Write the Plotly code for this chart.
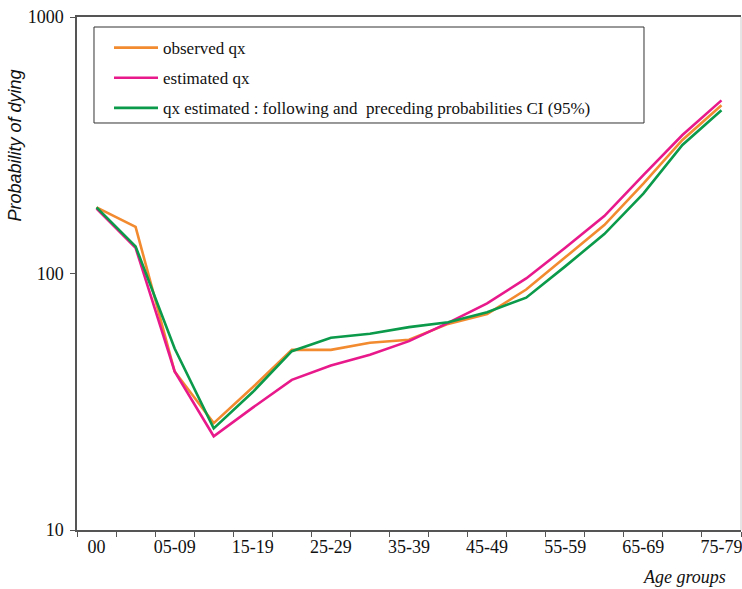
import plotly.graph_objects as go

age_groups = ["00", "01-04", "05-09", "10-14", "15-19", "20-24", "25-29", "30-34",
              "35-39", "40-44", "45-49", "50-54", "55-59", "60-64", "65-69", "70-74", "75-79"]
observed_qx = [181, 152, 41.5, 26.1, 36, 50.4, 50.4, 53.7, 55.2, 63.6, 69.5, 86.6,
               115.6, 154.5, 224, 331.6, 452.5]
estimated_qx = [179, 126, 41.5, 23.2, 30.0, 38.5, 43.8, 48.2, 54.5, 64.2, 76.5, 95.7,
                125.9, 167.5, 242, 346.6, 473]
ci_qx = [181, 127.6, 51.0, 24.9, 34.5, 49.8, 56.2, 58.2, 61.8, 64.6, 70.6, 80.5,
         106.6, 142.5, 205, 316.9, 432.6]
tick_labels = [g if i % 2 == 0 else "" for i, g in enumerate(age_groups)]

series = [
    ("observed qx", observed_qx, "#F28A30"),
    ("estimated qx", estimated_qx, "#E8198B"),
    ("qx estimated : following and  preceding probabilities CI (95%)", ci_qx, "#0A9A4A"),
]

serif = "Liberation Serif, Times New Roman, serif"
sans = "Liberation Sans, Arial, sans-serif"

fig = go.Figure()
for i, (name, vals, col) in enumerate(series):
    fig.add_trace(go.Scatter(
        x=age_groups, y=vals, mode="lines", name=name,
        line=dict(color=col, width=2.6), legendgroup=f"g{i}",
    ))

fig.update_layout(
    width=742, height=589,
    margin=dict(l=77, r=1, t=17, b=59),
    paper_bgcolor="white", plot_bgcolor="white",
    font=dict(family=serif, size=17, color="#111"),
    showlegend=True,
    legend=dict(
        x=0.0482, y=0.9745, xanchor="left", yanchor="top",
        borderwidth=0, bgcolor="rgba(0,0,0,0)",
        font=dict(family=serif, size=17, color="#111"),
        tracegroupgap=5, itemwidth=44,
    ),
    xaxis=dict(
        type="category", categoryorder="array", categoryarray=age_groups,
        tickmode="array", tickvals=age_groups, ticktext=tick_labels,
        tickson="boundaries", ticks="outside", ticklen=5, tickcolor="#555",
        tickangle=0, automargin=False,
        showline=True, linecolor="#555", linewidth=1.5, mirror=True,
        showgrid=False, zeroline=False,
        tickfont=dict(family=serif, size=18, color="#111"),
        range=[-0.5, 16.5],
    ),
    yaxis=dict(
        type="log", range=[1, 3], automargin=False,
        tickmode="array", tickvals=[10, 100, 1000], ticktext=["10", "100", "1000"],
        ticks="outside", ticklen=5, tickcolor="#555",
        showline=True, linecolor="#555", linewidth=1.5,
        showgrid=False, zeroline=False,
        tickfont=dict(family=serif, size=18, color="#111"),
        ticklabelstandoff=3,
    ),
    shapes=[
        dict(type="line", xref="paper", yref="paper", x0=1, x1=1, y0=0, y1=1,
             line=dict(color="#ccc", width=1)),
        dict(type="rect", xref="paper", yref="paper", x0=0.0256, x1=0.8539,
             y0=0.7934, y1=0.9805, line=dict(color="#333", width=1), layer="below"),
    ],
    annotations=[
        dict(text="Probability of dying", xref="paper", yref="paper",
             x=-0.093, y=0.75, xanchor="center", yanchor="middle", textangle=-90,
             showarrow=False, font=dict(family=sans, size=18, color="#111", style="italic")),
        dict(text="Age groups", xref="paper", yref="paper",
             x=0.981, y=-0.092, xanchor="right", yanchor="middle",
             showarrow=False, font=dict(family=serif, size=18, color="#111", style="italic")),
    ],
)

fig.write_html("out.html")
